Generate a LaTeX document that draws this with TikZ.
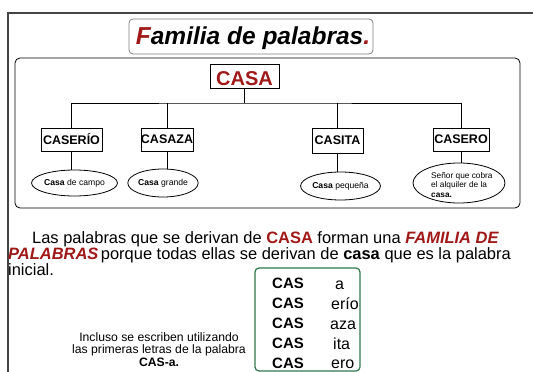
\documentclass[tikz,border=0pt]{standalone}
\usepackage{fontspec}
\setmainfont{Liberation Sans}
\usetikzlibrary{shapes.geometric}
\definecolor{dred}{HTML}{A01818}
\definecolor{dgreen}{HTML}{2F7A4A}
\definecolor{frame}{HTML}{444444}
\begin{document}
\begin{tikzpicture}[x=1pt,y=-1pt,
  wordbox/.style={draw,thick,inner sep=0pt,minimum height=23pt,font=\bfseries\fontsize{12.5}{15}\selectfont},
  meaning/.style={draw,ellipse,line width=0.8pt,inner sep=0pt,font=\fontsize{8.6}{9.5}\selectfont},
  link/.style={line width=0.8pt},
  cas/.style={anchor=base west,inner sep=0pt,font=\bfseries\fontsize{15}{17}\selectfont},
  suf/.style={anchor=base west,inner sep=0pt,font=\fontsize{16}{18}\selectfont}]
\useasboundingbox (0,0) rectangle (533,372);
\fill[white] (0,0) rectangle (533,372);
% outer frame
\draw[frame,line width=1.5pt] (8,372) -- (8,13) -- (534,13);
% title
\node[draw=gray,rounded corners=4pt,line width=0.8pt,minimum width=244pt,minimum height=35pt,inner sep=0pt] (title) at (251,36.5) {};
\node[anchor=base,inner sep=0pt,font=\bfseries\itshape\fontsize{24.5}{27}\selectfont] (titletext) at (253,44) {\textcolor{dred}{F}amilia de palabras\textcolor{dred}{.}};
% inner box
\node[draw,rounded corners=5pt,line width=0.8pt,minimum width=505pt,minimum height=150pt,inner sep=0pt] (panel) at (267.5,133) {};
% root
\node[draw,thick,minimum width=69pt,minimum height=24pt,inner sep=0pt] (casa) at (244.5,76) {};
\node[anchor=base,inner sep=0pt,text=dred,font=\bfseries\fontsize{20}{22}\selectfont] (casatext) at (244.5,85) {CASA};
\coordinate (hub) at (244.5,103);
% children
\node[wordbox,minimum width=61pt] (caserio) at (71.5,139.5) {CASERÍO};
\node[wordbox,minimum width=50pt] (casaza) at (167,139.5) {CASAZA};
\node[wordbox,minimum width=51pt,minimum height=25pt] (casita) at (337.5,140.5) {CASITA};
\node[wordbox,minimum width=56pt] (casero) at (461,139.5) {CASERO};
% meanings
\node[meaning,minimum width=71pt,minimum height=26pt] (m1) at (74.5,183) {\textbf{Casa} de campo};
\node[meaning,minimum width=60pt,minimum height=28pt] (m2) at (163,183) {\textbf{Casa} grande};
\node[meaning,minimum width=69pt,minimum height=28pt] (m3) at (340.5,186) {\textbf{Casa} pequeña};
\node[meaning,minimum width=92pt,minimum height=40pt] (m4) at (459,183) {};
\node[anchor=north west,align=left,inner sep=0pt,font=\fontsize{8.3}{9.5}\selectfont] (m4text) at (431,172) {Señor que cobra\\el alquiler de la\\\textbf{casa.}};
% connectors
\draw[link] (casa.south) -- (hub);
\draw[link] (caserio.north) |- (hub) -| (casero.north);
\draw[link] (casaza.north) -- (casaza.north |- hub);
\draw[link] (casita.north) -- (casita.north |- hub);
\draw[link] (caserio.south) -- (caserio.south |- m1.north);
\draw[link] (casaza.south) -- (casaza.south |- m2.north);
\draw[link] (casita.south) -- (casita.south |- m3.north);
\draw[link] (casero.south) -- (casero.south |- m4.north);
% paragraph
\begin{scope}[every node/.style={anchor=base west,inner sep=0pt,font=\fontsize{16.45}{18}\selectfont}]
\node (l1) at (32,243) {Las palabras que se derivan de \textcolor{dred}{\bfseries CASA} forman una \textcolor{dred}{\bfseries\itshape FAMILIA DE}};
\node (l2) at (8,259) {\textcolor{dred}{\bfseries\itshape PALABRAS}\hspace{-2pt} porque todas ellas se derivan de \textbf{casa} que es la palabra};
\node (l3) at (8,275) {inicial.};
\end{scope}
% green box
\node[draw=dgreen,rounded corners=4pt,line width=1.2pt,minimum width=105pt,minimum height=103pt,inner sep=0pt] (gbox) at (307.5,319.5) {};
\node[cas] (c1) at (272,288) {CAS};
\node[cas] (c2) at (272,308.5) {CAS};
\node[cas] (c3) at (272,328.5) {CAS};
\node[cas] (c4) at (272,348.5) {CAS};
\node[cas] (c5) at (272,368) {CAS};
\node[suf] (s1) at (335,289) {a};
\node[suf] (s2) at (331,309) {erío};
\node[suf] (s3) at (330,329) {aza};
\node[suf] (s4) at (333,349) {ita};
\node[suf] (s5) at (331,368.5) {ero};
\node[align=center,inner sep=0pt,font=\fontsize{12.2}{12.6}\selectfont] (note) at (159,349.5) {Incluso se escriben utilizando\\las primeras letras de la palabra\\\textbf{CAS-a.}};
\end{tikzpicture}
\end{document}
